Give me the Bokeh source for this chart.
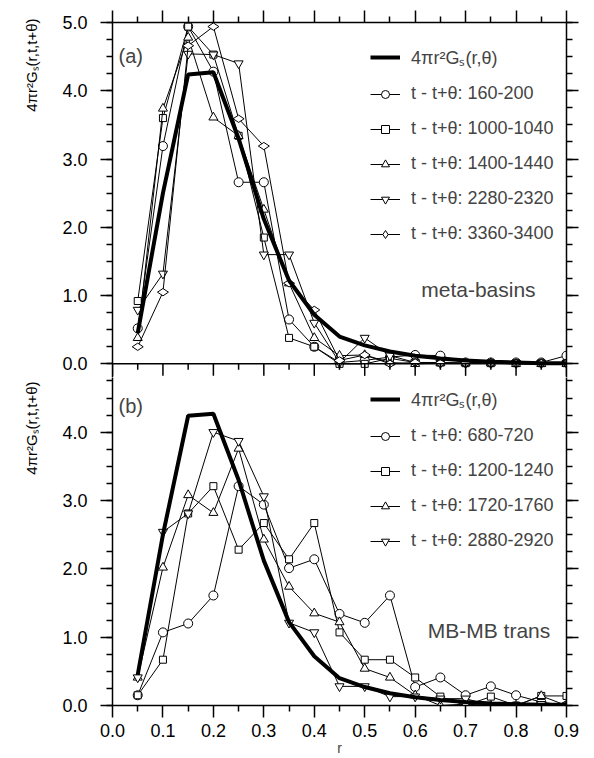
import math
from bokeh.plotting import figure
from bokeh.models import (Range1d, LinearAxis, FixedTicker, Legend, LegendItem, Label,
                          NumeralTickFormatter, CustomJSTickFormatter, Title, Span)
from bokeh.layouts import column
from bokeh.embed import file_html
from bokeh.resources import INLINE

FONT = "Liberation Sans"

# ---------------- data ----------------
r = [0.05, 0.10, 0.15, 0.20, 0.25, 0.30, 0.35, 0.40, 0.45, 0.50,
     0.55, 0.60, 0.65, 0.70, 0.75, 0.80, 0.85, 0.90]

gs_ref = [0.45, 2.50, 4.24, 4.27, 3.30, 2.12, 1.22, 0.72, 0.40, 0.27,
          0.18, 0.12, 0.08, 0.05, 0.03, 0.02, 0.01, 0.01]

# panel (a): meta-basins
a_labels = ["t - t+θ: 160-200", "t - t+θ: 1000-1040", "t - t+θ: 1400-1440",
            "t - t+θ: 2280-2320", "t - t+θ: 3360-3400"]
a_160 = [0.52, 3.19, 4.94, 4.28, 2.66, 2.66, 0.65, 0.25, 0.02, 0.05,
         0.10, 0.13, 0.12, 0.02, 0.02, 0.02, 0.02, 0.12]
a_1000 = [0.92, 3.60, 4.94, 4.53, 3.34, 1.85, 0.38, 0.25, 0.00, 0.00,
          0.08, 0.02, 0.02, 0.01, 0.01, 0.01, 0.01, 0.01]
a_1400 = [0.38, 3.74, 4.78, 3.61, 3.34, 2.26, 1.18, 0.38, 0.12, 0.13,
          0.02, 0.00, 0.01, 0.01, 0.01, 0.00, 0.00, 0.00]
a_2280 = [0.79, 1.32, 4.54, 4.53, 4.40, 1.60, 1.60, 0.60, 0.02, 0.38,
          0.12, 0.02, 0.01, 0.01, 0.01, 0.01, 0.01, 0.01]
a_3360 = [0.25, 1.05, 4.66, 4.94, 3.59, 3.19, 1.18, 0.79, 0.05, 0.13,
          0.00, 0.02, 0.01, 0.01, 0.01, 0.01, 0.01, 0.01]

# panel (b): MB-MB transitions
b_labels = ["t - t+θ: 680-720", "t - t+θ: 1200-1240",
            "t - t+θ: 1720-1760", "t - t+θ: 2880-2920"]
b_680 = [0.15, 1.07, 1.20, 1.61, 3.21, 2.94, 2.01, 2.14, 1.34, 1.21,
         1.61, 0.27, 0.41, 0.15, 0.28, 0.15, 0.05, 0.00]
b_1200 = [0.15, 0.67, 2.81, 3.21, 2.28, 2.67, 2.14, 2.67, 1.07, 0.67,
          0.67, 0.41, 0.13, 0.00, 0.13, 0.00, 0.14, 0.14]
b_1720 = [0.41, 2.02, 3.08, 2.82, 3.76, 2.43, 1.74, 1.35, 1.22, 0.54,
          0.41, 0.15, 0.00, 0.02, 0.00, 0.00, 0.14, 0.00]
b_2880 = [0.41, 2.54, 2.81, 4.00, 3.87, 3.06, 1.21, 1.07, 0.28, 0.28,
          0.13, 0.13, 0.10, 0.10, 0.00, 0.00, 0.02, 0.00]

ref_label = "4πr²Gₛ(r,θ)"
y_title = "4πr²Gₛ(r,t,t+θ)"

x_major = [0.0, 0.1, 0.2, 0.3, 0.4, 0.5, 0.6, 0.7, 0.8, 0.9]
x_minor = [0.05, 0.15, 0.25, 0.35, 0.45, 0.55, 0.65, 0.75, 0.85]
y_major_a = [0.0, 1.0, 2.0, 3.0, 4.0, 5.0]
y_major_b = [0.0, 1.0, 2.0, 3.0, 4.0]
y_minor = [i * 0.25 for i in range(21)]

markers = ["circle", "square", "triangle", "inverted_triangle", "diamond"]
msizes = {"circle": 9, "square": 7, "triangle": 9, "inverted_triangle": 9, "diamond": 11}

PX_PER_UNIT = 68.2          # vertical scale of both panels (pixels per y unit)
EXT = 0.2                   # panel (a) frame continues this far below y=0
MAJ, MIN = 12, 6            # tick lengths in px


def style_axis(ax, major, minor, show_labels):
    ax.ticker = FixedTicker(ticks=major, minor_ticks=minor)
    ax.axis_line_width = 1.5
    ax.major_tick_line_width = 1.5
    ax.minor_tick_line_width = 1.5
    ax.major_tick_in, ax.major_tick_out = 0, MAJ
    ax.minor_tick_in, ax.minor_tick_out = 0, MIN
    ax.major_label_text_font = FONT
    ax.major_label_text_color = "black"
    if show_labels:
        ax.formatter = NumeralTickFormatter(format="0.0")
        ax.major_label_text_font_size = "18px"
        ax.major_label_standoff = 13
    else:
        ax.formatter = CustomJSTickFormatter(code="return '';")
        ax.major_label_text_font_size = "1px"
        ax.major_label_standoff = 0


def base_fig(height, y_range, top):
    p = figure(width=590, height=height, x_range=Range1d(0, 0.9), y_range=y_range,
               output_backend="svg", toolbar_location=None,
               x_axis_location=None, y_axis_location=None,
               min_border_left=104, min_border_right=24,
               min_border_top=top, min_border_bottom=0)
    p.grid.visible = False
    p.outline_line_color = None
    p.background_fill_color = "white"
    p.border_fill_color = "white"
    return p


def add_content(p, y_major, series, labels, panel_tag, note, note_x, note_y, tag_y,
                legend_loc, title_offset):
    left = LinearAxis()
    style_axis(left, y_major, y_minor, True)
    p.add_layout(left, "left")
    right = LinearAxis()
    style_axis(right, y_major, y_minor, False)
    p.add_layout(right, "right")

    p.add_layout(Title(text=y_title, align="right", offset=title_offset, standoff=40,
                       text_font=FONT, text_font_size="15px", text_color="black",
                       text_font_style="normal"), "left")

    rends = []
    for ys, lab, mk in zip(series, labels, markers):
        ln = p.line(r, ys, line_color="black", line_width=1)
        sc = p.scatter(r, ys, marker=mk, size=msizes[mk], line_color="black",
                       line_width=1, fill_color="white",
                       angle=(math.pi / 2 if mk == "diamond" else 0))
        rends.append((lab, ln, sc))
    thick = p.line(r, gs_ref, line_color="black", line_width=4)
    items = [LegendItem(label=ref_label, renderers=[thick])]
    for lab, ln, sc in rends:
        items.append(LegendItem(label=lab, renderers=[ln, sc]))

    legend = Legend(items=items, location=legend_loc, orientation="vertical",
                    border_line_color=None, background_fill_alpha=0,
                    padding=0, margin=0, spacing=14,
                    glyph_width=30, glyph_height=20, label_height=20,
                    label_standoff=11,
                    label_text_font=FONT, label_text_font_size="18px")
    p.add_layout(legend, "center")

    p.add_layout(Label(x=0.012, y=tag_y, text=panel_tag, text_font=FONT,
                       text_font_size="20px", text_baseline="middle"))
    p.add_layout(Label(x=note_x, y=note_y, text=note, text_font=FONT,
                       text_font_size="21px", text_baseline="middle"))


# ---------- panel (a) ----------
a_frame = round((5 + EXT) * PX_PER_UNIT)
pa = base_fig(22 + a_frame, Range1d(-EXT, 5), 22)
above = LinearAxis()
style_axis(above, x_major, x_minor, False)
pa.add_layout(above, "above")
add_content(pa, y_major_a, [a_160, a_1000, a_1400, a_2280, a_3360], a_labels,
            "(a)", "meta-basins", 0.612, 1.09, 4.51, (258, 133), -4)
# boundary between the panels (y = 0 of panel a = y = 5 of panel b)
pa.add_layout(Span(location=0, dimension="width", line_color="black", line_width=1.5))
pa.segment(x0=x_major, y0=[0] * len(x_major), x1=x_major,
           y1=[-MAJ / PX_PER_UNIT] * len(x_major), line_color="black", line_width=1.5)
pa.segment(x0=x_minor, y0=[0] * len(x_minor), x1=x_minor,
           y1=[-MIN / PX_PER_UNIT] * len(x_minor), line_color="black", line_width=1.5)

# ---------- panel (b) ----------
b_frame = round((5 - EXT) * PX_PER_UNIT)
pb = base_fig(b_frame + 54, Range1d(0, 5 - EXT), 0)
below = LinearAxis(axis_label="r")
style_axis(below, x_major, x_minor, True)
below.major_label_standoff = 6
below.axis_label_text_font = FONT
below.axis_label_text_font_size = "14px"
below.axis_label_text_font_style = "normal"
below.axis_label_standoff = 0
pb.add_layout(below, "below")
add_content(pb, y_major_b, [b_680, b_1200, b_1720, b_2880], b_labels,
            "(b)", "MB-MB trans", 0.625, 1.10, 4.39, (258, 154), 4)

layout = column(pa, pb, spacing=0)
open("out.html", "w").write(file_html(layout, INLINE))
